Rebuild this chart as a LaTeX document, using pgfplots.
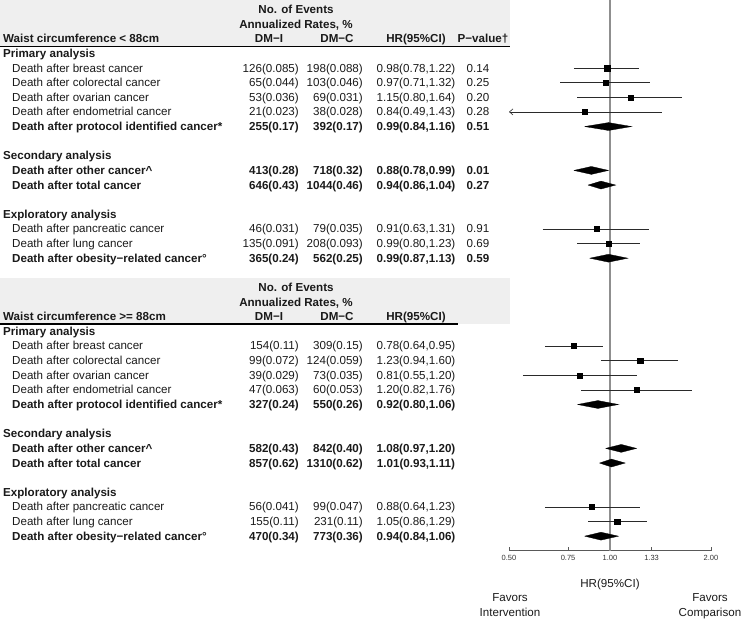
\documentclass[border=0pt]{standalone}
\usepackage{fontspec}
\setmainfont{Liberation Sans}
\usepackage{pgfplots}
\pgfplotsset{compat=1.18}
\usetikzlibrary{arrows.meta}
\definecolor{hdrgrey}{HTML}{EFEFEF}
\definecolor{txt}{HTML}{1A1A1A}
\definecolor{refline}{HTML}{8F8F8F}
\definecolor{cicol}{HTML}{2A2A2A}
\newcommand{\lab}[3]{\node[anchor=base west, inner sep=0, text=txt] at (#1, {13.5+14.63*#2}) {#3};}
\newcommand{\rgt}[3]{\node[anchor=base east, inner sep=0, text=txt] at (#1, {13.5+14.63*#2}) {#3};}
\newcommand{\ctr}[3]{\node[anchor=base, inner sep=0, text=txt] at (#1, {13.5+14.63*#2}) {#3};}
\newcommand{\drow}[6]{\lab{12}{#1}{#2}\rgt{299}{#1}{#3}\rgt{363}{#1}{#4}\ctr{416}{#1}{#5}\ctr{478}{#1}{#6}}
\newcommand{\brow}[6]{\lab{12}{#1}{\bfseries #2}\rgt{299}{#1}{\bfseries #3}\rgt{363}{#1}{\bfseries #4}\ctr{416}{#1}{\bfseries #5}\ctr{478}{#1}{\bfseries #6}}
\begin{document}
\begin{tikzpicture}
\fontsize{11.6}{13}\selectfont
\path[use as bounding box] (0,0) rectangle (745pt,-620pt);
\fill[hdrgrey] (0,0) rectangle (510pt,-46.5pt);
\fill[hdrgrey] (0,-278pt) rectangle (510pt,-324pt);
\begin{axis}[
  at={(509pt,-550.8pt)}, anchor=south west,
  scale only axis, width=202pt, height=550.8pt,
  xmode=log, log basis x=2, xmin=0.5, xmax=2,
  ymin=-37, ymax=0.65,
  axis x line=bottom, axis y line=none,
  x axis line style={-, draw=black!65, line width=0.9pt},
  xtick={0.5,0.75,1,1.33,2},
  xticklabels={0.50,0.75,1.00,1.33,2.00},
  tick align=inside, major tick length=4pt,
  xtick style={draw=black!65, line width=0.9pt},
  xticklabel style={font=\fontsize{7.5}{9}\selectfont, text=black!80},
  clip=false,
  ci/.style={cicol, line width=0.6pt},
  dia/.style={fill=black, draw=black, line width=0.3pt},
]
\addplot[refline, line width=1.3pt] coordinates {(1,0.65) (1,-37)};
% confidence intervals, section 1
\addplot[ci] coordinates {(0.78,-4) (1.22,-4)};
\addplot[ci] coordinates {(0.71,-5) (1.32,-5)};
\addplot[ci] coordinates {(0.80,-6) (1.64,-6)};
\addplot[ci, {Straight Barb[length=3.5pt,width=6pt,line width=0.6pt]}-] coordinates {(0.5,-7) (1.43,-7)};
\addplot[ci] coordinates {(0.63,-15) (1.31,-15)};
\addplot[ci] coordinates {(0.80,-16) (1.23,-16)};
% section 2
\addplot[ci] coordinates {(0.64,-23) (0.95,-23)};
\addplot[ci] coordinates {(0.94,-24) (1.60,-24)};
\addplot[ci] coordinates {(0.55,-25) (1.20,-25)};
\addplot[ci] coordinates {(0.82,-26) (1.76,-26)};
\addplot[ci] coordinates {(0.64,-34) (1.23,-34)};
\addplot[ci] coordinates {(0.86,-35) (1.29,-35)};
% point estimates
\addplot[only marks, mark=square*, mark size=2.6pt, mark options={fill=black, draw=black, line width=0.2pt}] coordinates {
 (0.98,-4) (0.97,-5) (1.15,-6) (0.84,-7) (0.91,-15) (0.99,-16)
 (0.78,-23) (1.23,-24) (0.81,-25) (1.20,-26) (0.88,-34) (1.05,-35)};
% summary diamonds
\addplot[dia] coordinates {(0.84,-8) (0.99,-7.73) (1.16,-8) (0.99,-8.27) (0.84,-8)};
\addplot[dia] coordinates {(0.78,-11) (0.88,-10.73) (0.99,-11) (0.88,-11.27) (0.78,-11)};
\addplot[dia] coordinates {(0.86,-12) (0.94,-11.73) (1.04,-12) (0.94,-12.27) (0.86,-12)};
\addplot[dia] coordinates {(0.87,-17) (0.99,-16.73) (1.13,-17) (0.99,-17.27) (0.87,-17)};
\addplot[dia] coordinates {(0.80,-27) (0.92,-26.73) (1.06,-27) (0.92,-27.27) (0.80,-27)};
\addplot[dia] coordinates {(0.97,-30) (1.08,-29.73) (1.20,-30) (1.08,-30.27) (0.97,-30)};
\addplot[dia] coordinates {(0.93,-31) (1.01,-30.73) (1.11,-31) (1.01,-31.27) (0.93,-31)};
\addplot[dia] coordinates {(0.84,-36) (0.94,-35.73) (1.06,-36) (0.94,-36.27) (0.84,-36)};
\end{axis}
\begin{scope}[x=1pt, y=-1pt]
\draw[line width=1.5pt] (0,46.5) -- (510,46.5);
\draw[line width=1.5pt] (0,324) -- (458,324);
% section 1 header
\ctr{296}{0}{\bfseries No. of Events}
\ctr{296}{1}{\bfseries Annualized Rates, \%}
\lab{3}{2}{\bfseries Waist circumference < 88cm}
\ctr{269}{2}{\bfseries DM−I}
\ctr{337}{2}{\bfseries DM−C}
\ctr{416}{2}{\bfseries HR(95\%CI)}
\ctr{483}{2}{\bfseries P−value†}
\lab{3}{3}{\bfseries Primary analysis}
\drow{4}{Death after breast cancer}{126(0.085)}{198(0.088)}{0.98(0.78,1.22)}{0.14}
\drow{5}{Death after colorectal cancer}{65(0.044)}{103(0.046)}{0.97(0.71,1.32)}{0.25}
\drow{6}{Death after ovarian cancer}{53(0.036)}{69(0.031)}{1.15(0.80,1.64)}{0.20}
\drow{7}{Death after endometrial cancer}{21(0.023)}{38(0.028)}{0.84(0.49,1.43)}{0.28}
\brow{8}{Death after protocol identified cancer*}{255(0.17)}{392(0.17)}{0.99(0.84,1.16)}{0.51}
\lab{3}{10}{\bfseries Secondary analysis}
\brow{11}{Death after other cancer\textasciicircum}{413(0.28)}{718(0.32)}{0.88(0.78,0.99)}{0.01}
\brow{12}{Death after total cancer}{646(0.43)}{1044(0.46)}{0.94(0.86,1.04)}{0.27}
\lab{3}{14}{\bfseries Exploratory analysis}
\drow{15}{Death after pancreatic cancer}{46(0.031)}{79(0.035)}{0.91(0.63,1.31)}{0.91}
\drow{16}{Death after lung cancer}{135(0.091)}{208(0.093)}{0.99(0.80,1.23)}{0.69}
\brow{17}{Death after obesity−related cancer°}{365(0.24)}{562(0.25)}{0.99(0.87,1.13)}{0.59}
% section 2 header
\ctr{296}{19}{\bfseries No. of Events}
\ctr{296}{20}{\bfseries Annualized Rates, \%}
\lab{3}{21}{\bfseries Waist circumference >= 88cm}
\ctr{269}{21}{\bfseries DM−I}
\ctr{337}{21}{\bfseries DM−C}
\ctr{416}{21}{\bfseries HR(95\%CI)}
\lab{3}{22}{\bfseries Primary analysis}
\drow{23}{Death after breast cancer}{154(0.11)}{309(0.15)}{0.78(0.64,0.95)}{}
\drow{24}{Death after colorectal cancer}{99(0.072)}{124(0.059)}{1.23(0.94,1.60)}{}
\drow{25}{Death after ovarian cancer}{39(0.029)}{73(0.035)}{0.81(0.55,1.20)}{}
\drow{26}{Death after endometrial cancer}{47(0.063)}{60(0.053)}{1.20(0.82,1.76)}{}
\brow{27}{Death after protocol identified cancer*}{327(0.24)}{550(0.26)}{0.92(0.80,1.06)}{}
\lab{3}{29}{\bfseries Secondary analysis}
\brow{30}{Death after other cancer\textasciicircum}{582(0.43)}{842(0.40)}{1.08(0.97,1.20)}{}
\brow{31}{Death after total cancer}{857(0.62)}{1310(0.62)}{1.01(0.93,1.11)}{}
\lab{3}{33}{\bfseries Exploratory analysis}
\drow{34}{Death after pancreatic cancer}{56(0.041)}{99(0.047)}{0.88(0.64,1.23)}{}
\drow{35}{Death after lung cancer}{155(0.11)}{231(0.11)}{1.05(0.86,1.29)}{}
\brow{36}{Death after obesity−related cancer°}{470(0.34)}{773(0.36)}{0.94(0.84,1.06)}{}
% axis title and favour labels
\node[anchor=base, inner sep=0, text=txt] at (610,587) {HR(95\%CI)};
\node[anchor=base, inner sep=0, text=txt] at (510,601) {Favors};
\node[anchor=base, inner sep=0, text=txt] at (510,616) {Intervention};
\node[anchor=base, inner sep=0, text=txt] at (710,601) {Favors};
\node[anchor=base, inner sep=0, text=txt] at (710,616) {Comparison};
\end{scope}
\end{tikzpicture}
\end{document}
